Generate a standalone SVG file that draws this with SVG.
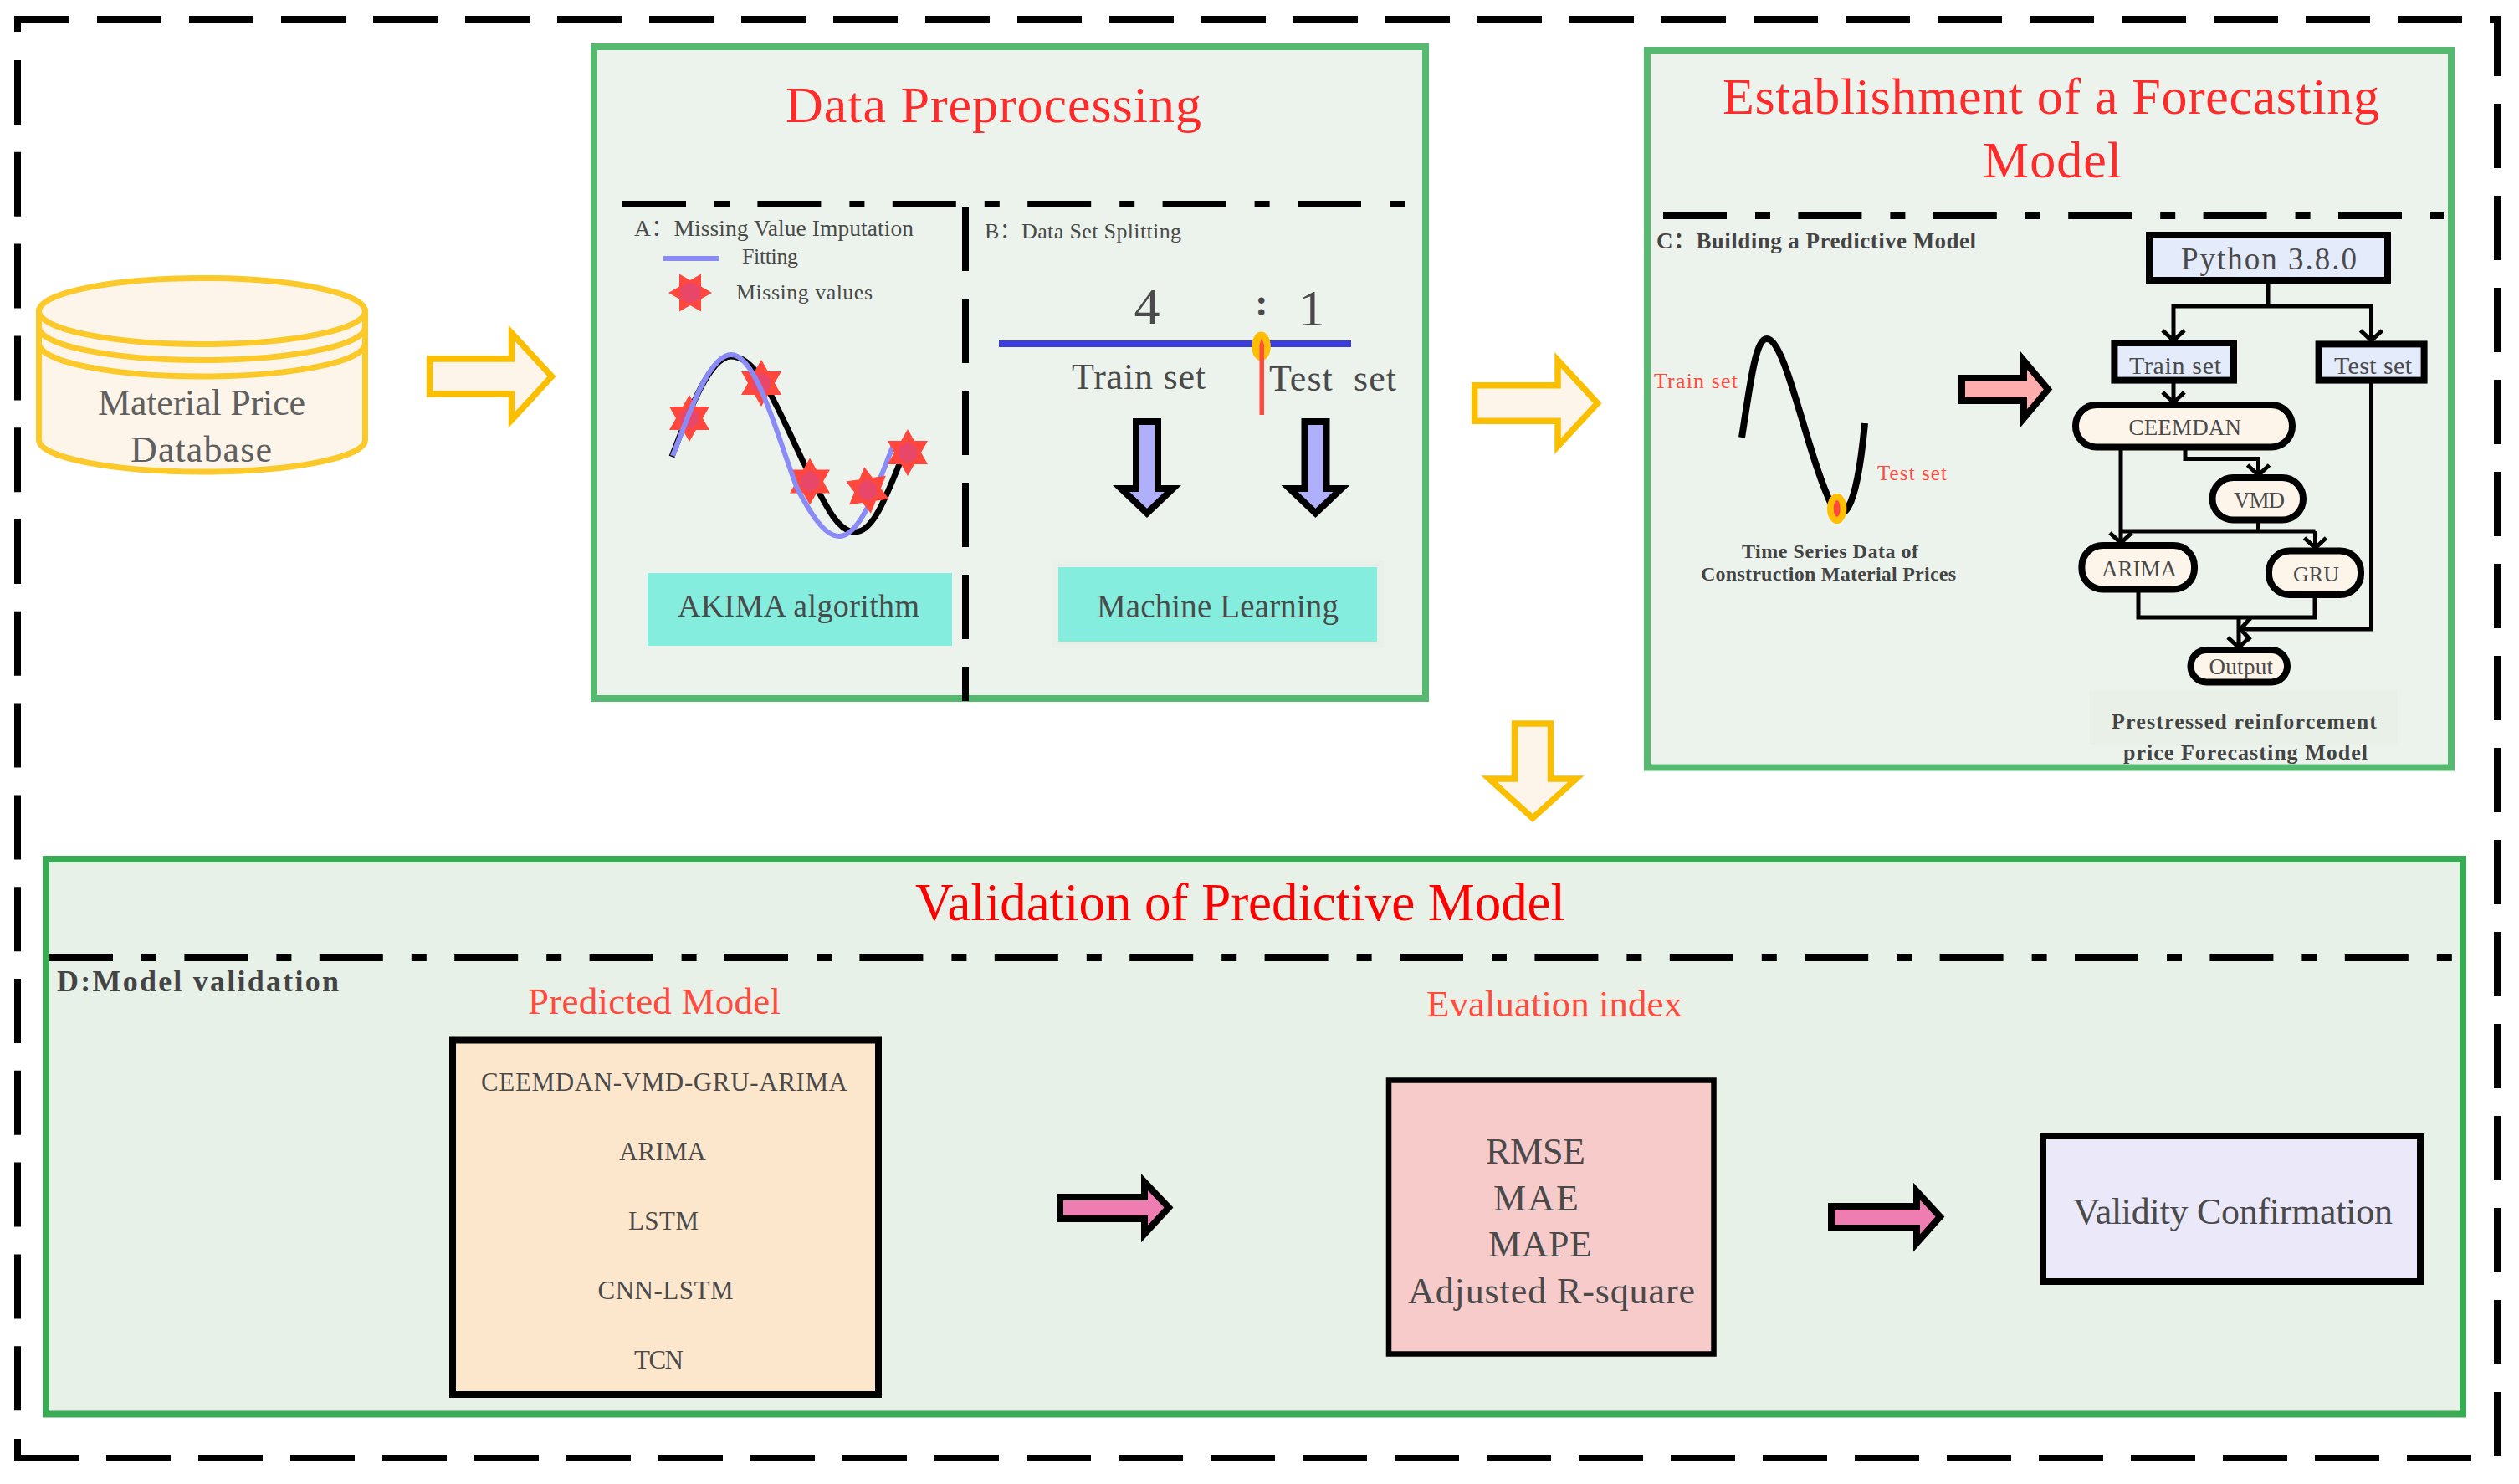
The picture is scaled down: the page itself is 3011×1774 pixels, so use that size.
<svg xmlns="http://www.w3.org/2000/svg" width="3011" height="1774" viewBox="0 0 3011 1774">
<style>
text{font-family:"Liberation Serif","Noto Sans CJK SC",serif;fill:#4a4a4a}
.h{fill:#ff2a2a;font-size:62px}
.r{fill:#ff4a3d}
.b{font-weight:bold;fill:#444}
.od{fill:none;stroke:#000;stroke-width:8}
.dd{fill:none;stroke:#000;stroke-width:8;stroke-dasharray:76 34 18 33.4}
.p1{fill:#ecf3ec;stroke:#56b970;stroke-width:8}
.p2{fill:#e7f1e8;stroke:#38ab54;stroke-width:8}
.ya{fill:#fdf5ea;stroke:#fbbf02;stroke-width:7.5;stroke-miterlimit:20}
.pa{stroke:#000;stroke-width:8;stroke-miterlimit:20}
.k{fill:none;stroke:#000;stroke-width:5}
.nb{fill:#e4ebfb;stroke:#000;stroke-width:8}
.pill{fill:#fdf5ea;stroke:#000;stroke-width:8}
.tq{fill:#84edde}
.cyl{fill:#fdf5ea;stroke:#fcc92a;stroke-width:7}
.arc{fill:none;stroke:#fcc92a;stroke-width:7}
</style>
<defs>
<marker id="v" markerUnits="userSpaceOnUse" viewBox="-18 -16 20 32" refX="0" refY="0" markerWidth="20" markerHeight="32" orient="auto">
<path d="M-12,-13 L0,0 L-12,13" fill="none" stroke="#000" stroke-width="5"/>
</marker>
<g id="star">
<polygon points="0,-28 8,-14 24,-14 16,0 24,14 8,14 0,28 -8,14 -24,14 -16,0 -24,-14 -8,-14" fill="#ff473e"/>
<polygon points="0,-13 11,-6 11,6 0,13 -11,6 -11,-6" fill="#e8476a"/>
</g>
<path id="da" d="M1358,504 H1384 V584 H1402 L1371,613.5 L1340,584 H1358 Z" fill="#afaffb" class="pa"/>
</defs>

<g id="outer-frame">
<path class="od" stroke-dasharray="77 33" d="M21,38 V23 H2985 V1743 H21"/>
<path class="od" d="M21,1720 V1743 H60"/>
<path class="od" stroke-dasharray="77 32.800" d="M21,72 V1687"/>
</g>

<g id="panel-preprocessing"><rect class="p1" x="710" y="56" width="994" height="779"/></g>
<g id="panel-forecasting"><rect class="p1" x="1969" y="60" width="961" height="857.500"/></g>
<g id="panel-validation"><rect class="p2" x="55" y="1027" width="2889" height="663.500"/></g>

<g id="connectors">
<polygon class="ya" points="513.500,429 611.500,429 611.500,398 659.500,450 611.500,502 611.500,471 513.500,471"/>
<polygon class="ya" points="1762.700,460.800 1862,460.800 1862,430.500 1909.500,482 1862,533.500 1862,503.200 1762.700,503.200"/>
<polygon class="ya" points="1810.500,865 1853.500,865 1853.500,931 1884,931 1832,978 1780,931 1810.500,931"/>
<polygon class="pa" fill="#ffadad" points="2345,452 2419,452 2419,431 2448,465.500 2419,500 2419,479 2345,479"/>
<polygon class="pa" fill="#ee7eb2" points="1267,1431 1368,1431 1368,1413 1397,1443.500 1368,1475 1368,1457 1267,1457"/>
<polygon class="pa" fill="#ee7eb2" points="2189,1442 2291,1442 2291,1424 2319,1454.500 2291,1486 2291,1468 2189,1468"/>
<path class="k" d="M2711,339 V366"/>
<path class="k" marker-end="url(#v)" d="M2711,366 H2598 V407"/>
<path class="k" marker-end="url(#v)" d="M2711,366 H2834.500 V407"/>
<path class="k" marker-end="url(#v)" d="M2598,458 V481"/>
<path class="k" marker-end="url(#v)" d="M2535,538 V649"/>
<path class="k" marker-end="url(#v)" d="M2612,538 V548.400 H2699.500 V568"/>
<path class="k" d="M2699.500,625 V635"/>
<path class="k" d="M2535,635 H2767.500"/>
<path class="k" marker-end="url(#v)" d="M2767.500,635 V655"/>
<path class="k" d="M2556,708 V738 H2767 V715"/>
<path class="k" marker-end="url(#v)" d="M2676,738 V774"/>
<path class="k" marker-end="url(#v)" d="M2834.500,458 V752 H2678"/>
</g>

<g id="database">
<path class="cyl" d="M46.500,372 V526 A195,38 0 0 0 436.500,526 V372 Z"/>
<path class="arc" d="M46.500,410.500 A195,39.500 0 0 0 436.500,410.500"/>
<path class="arc" d="M46.500,391 A195,39.500 0 0 0 436.500,391"/>
<ellipse class="cyl" cx="241.500" cy="372" rx="195" ry="39.500"/>
<text x="117" y="496" font-size="44" textLength="248" style="fill:#5f5f5f">Material Price</text>
<text x="156" y="551.500" font-size="44" textLength="169" style="fill:#5f5f5f">Database</text>
</g>

<g id="title-preprocessing"><text class="h" x="939" y="146" textLength="497">Data Preprocessing</text></g>
<g id="dividers-preprocessing">
<path class="dd" d="M744,244 H1679"/>
<path class="od" stroke-dasharray="77 33" d="M1154,247 V838"/>
</g>

<g id="section-a">
<text x="758" y="282" font-size="27.500" textLength="334">A：Missing Value Imputation</text>
<path d="M793,309 H859" stroke="#8b8bf8" stroke-width="6" fill="none"/>
<text x="887" y="314.500" font-size="26" textLength="67">Fitting</text>
<polygon points="851,350 838,357.500 838,372.500 825,365 812,372.500 812,357.500 799,350 812,342.500 812,327.500 825,335 838,327.500 838,342.500" fill="#ff473e"/>
<polygon points="837,343 837,357 825,363 813,357 813,343 825,337" fill="#e8476a"/>
<text x="880" y="358" font-size="26" textLength="163">Missing values</text>
<path d="M803,546 C818,507 846,426 874,426 C905,426 925,478 960,552 C985,600 1000,636 1022,636 C1045,636 1060,590 1078,548" fill="none" stroke="#000" stroke-width="7"/>
<use href="#star" x="824" y="500"/>
<use href="#star" x="910" y="458"/>
<use href="#star" x="968" y="575.500"/>
<path d="M804,545 C820,505 846,424 874,424 C905,424 930,525 953,584 C968,612 985,641 1003,641 C1030,641 1050,575 1068,532" fill="none" stroke="#8b8bf8" stroke-width="6"/>
<use href="#star" x="1037" y="586" transform="rotate(-8 1037 586)"/>
<use href="#star" x="1085" y="541"/>
</g>
<g id="akima">
<rect class="tq" x="774" y="685" width="364" height="87"/>
<text x="810" y="737" font-size="38" textLength="289">AKIMA algorithm</text>
</g>

<g id="section-b">
<text x="1177" y="284.500" font-size="26" textLength="235">B：Data Set Splitting</text>
<text x="1371" y="386.500" font-size="62" text-anchor="middle">4</text>
<text x="1508" y="377" font-size="46" font-weight="bold" text-anchor="middle">:</text>
<text x="1568" y="388.500" font-size="62" text-anchor="middle">1</text>
<path d="M1194,411 H1615" stroke="#3c3cdc" stroke-width="8" fill="none"/>
<ellipse cx="1507.500" cy="414" rx="11.300" ry="17.500" fill="#ffbf00"/>
<path d="M1505.500,496 V412 L1508,404 L1511,412 V496 Z" fill="#ff4a3d"/>
<text x="1281" y="465" font-size="44" textLength="160">Train set</text>
<text x="1517" y="467" font-size="44" textLength="152" style="white-space:pre">Test  set</text>
<use href="#da"/>
<use href="#da" x="201.500"/>
</g>
<g id="machine-learning">
<rect x="1261" y="674" width="389" height="97" fill="#84edde" stroke="#e9f0e9" stroke-width="8"/>
<text x="1311" y="737.500" font-size="39" textLength="289">Machine Learning</text>
</g>

<g id="title-forecasting">
<text class="h" x="2059" y="136" textLength="785">Establishment of a Forecasting</text>
<text class="h" x="2370" y="212" textLength="166">Model</text>
</g>
<g id="divider-forecasting"><path class="dd" d="M1988,258 H2921"/></g>

<g id="section-c">
<text class="b" x="1980" y="297" font-size="27" textLength="382">C：Building a Predictive Model</text>
<text class="r" x="1977" y="464" font-size="26" textLength="100">Train set</text>
<text class="r" x="2244" y="574" font-size="25" textLength="83">Test set</text>
<path d="M2082,523 C2092,460 2098,405 2112,405 C2135,405 2160,545 2190,605 C2200,622 2218,625 2229,506" fill="none" stroke="#000" stroke-width="8"/>
<ellipse cx="2195.700" cy="608" rx="11.700" ry="18" fill="#ffbf00"/>
<ellipse cx="2195.700" cy="608" rx="4" ry="10" fill="#ff4a3d"/>
<text class="b" x="2082" y="667" font-size="24" textLength="211">Time Series Data of</text>
<text class="b" x="2033" y="694" font-size="24" textLength="305">Construction Material Prices</text>
</g>

<g id="node-python"><rect class="nb" x="2569" y="281" width="285" height="54"/><text x="2607" y="322" font-size="37" textLength="210">Python 3.8.0</text></g>
<g id="node-train"><rect class="nb" x="2527.400" y="410" width="142.600" height="44.600"/><text x="2545" y="446.500" font-size="30" textLength="110">Train set</text></g>
<g id="node-test"><rect class="nb" x="2771.600" y="411.400" width="126" height="43.200"/><text x="2790" y="447" font-size="30" textLength="93">Test set</text></g>
<g id="node-ceemdan"><rect class="pill" x="2481" y="484" width="259" height="50.500" rx="25"/><text x="2544.500" y="520" font-size="27" textLength="134.500">CEEMDAN</text></g>
<g id="node-vmd"><rect class="pill" x="2644.500" y="571" width="108.500" height="50.600" rx="25"/><text x="2670" y="607" font-size="27" textLength="61">VMD</text></g>
<g id="node-arima"><rect class="pill" x="2488.400" y="652" width="134.600" height="52.400" rx="25"/><text x="2512" y="689" font-size="27" textLength="90">ARIMA</text></g>
<g id="node-gru"><rect class="pill" x="2712" y="658.600" width="110" height="52.400" rx="25"/><text x="2741" y="694.500" font-size="26" textLength="55">GRU</text></g>
<g id="node-output"><rect class="pill" x="2618.500" y="777" width="115.500" height="38.400" rx="19"/><text x="2640.500" y="806.400" font-size="27" textLength="76.500">Output</text></g>
<g id="caption-forecast">
<rect x="2498" y="824.600" width="368" height="65.400" fill="#e8f0e8"/>
<text class="b" x="2524" y="870.600" font-size="26" textLength="317">Prestressed reinforcement</text>
<text class="b" x="2538" y="908" font-size="26" textLength="292">price Forecasting Model</text>
</g>

<g id="title-validation">
<text x="1094" y="1100" font-size="63" textLength="777" style="fill:#ff0000">Validation of Predictive Model</text>
</g>
<g id="divider-validation"><path class="dd" d="M59,1145 H2932"/></g>
<g id="section-d"><text class="b" x="68" y="1185" font-size="36" textLength="337">D:Model validation</text></g>

<g id="predicted-model">
<text class="r" x="631" y="1212" font-size="45" textLength="302">Predicted Model</text>
<rect x="541" y="1243.500" width="509" height="423.500" fill="#fde7cc" stroke="#000" stroke-width="8"/>
<text x="575" y="1304" font-size="31" textLength="438">CEEMDAN-VMD-GRU-ARIMA</text>
<text x="740" y="1387.400" font-size="31" textLength="104">ARIMA</text>
<text x="751" y="1470" font-size="31" textLength="84">LSTM</text>
<text x="714.500" y="1552.600" font-size="31" textLength="162">CNN-LSTM</text>
<text x="758" y="1635.600" font-size="31" textLength="59">TCN</text>
</g>

<g id="evaluation-index">
<text class="r" x="1705" y="1214.600" font-size="45" textLength="306">Evaluation index</text>
<rect x="1660" y="1291.500" width="388.500" height="327" fill="#f8cbcb" stroke="#000" stroke-width="6.500"/>
<text x="1776" y="1391" font-size="44" textLength="119">RMSE</text>
<text x="1785" y="1447" font-size="44" textLength="102">MAE</text>
<text x="1779" y="1502" font-size="44" textLength="124">MAPE</text>
<text x="1683" y="1558" font-size="44" textLength="343">Adjusted R-square</text>
</g>

<g id="validity">
<rect x="2442" y="1358" width="451" height="174" fill="#ebe8fa" stroke="#000" stroke-width="8"/>
<text x="2478" y="1463" font-size="44" textLength="382">Validity Confirmation</text>
</g>
</svg>
